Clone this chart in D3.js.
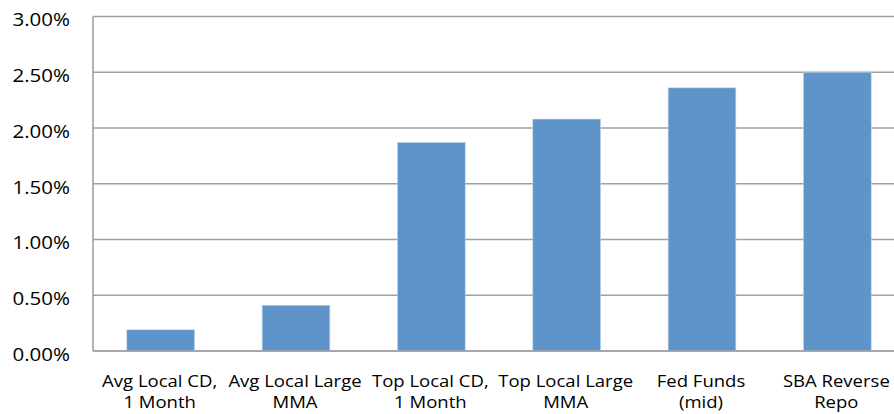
<!DOCTYPE html>
<html>
<head>
<meta charset="utf-8">
<script src="https://cdn.jsdelivr.net/npm/d3@7"></script>
<style>
  body { margin: 0; background: #fff; }
  text { font-family: "Open Sans", "Noto Sans", sans-serif; fill: #000; }
</style>
</head>
<body>
<svg id="chart" width="894" height="414"></svg>
<script>
var categories = ["Avg Local CD, 1 Month", "Avg Local Large MMA", "Top Local CD, 1 Month",
  "Top Local Large MMA", "Fed Funds (mid)", "SBA Reverse Repo"];
var labelLines = [["Avg Local CD,", "1 Month"], ["Avg Local Large", "MMA"], ["Top Local CD,", "1 Month"],
  ["Top Local Large", "MMA"], ["Fed Funds", "(mid)"], ["SBA Reverse", "Repo"]];
var values = [0.0019, 0.0041, 0.0187, 0.0208, 0.0236, 0.0250];
var yTicks = [0, 0.005, 0.01, 0.015, 0.02, 0.025, 0.03];

var svg = d3.select("#chart"),
  width = +svg.attr("width"),
  height = +svg.attr("height");

var plotLeft = 93, plotTop = 16.5, plotBottom = 351, plotRight = 905;

var x = d3.scaleBand()
  .domain(categories)
  .range([plotLeft, plotRight])
  .paddingInner(0.5)
  .paddingOuter(0.25);

var y = d3.scaleLinear()
  .domain([0, 0.03])
  .range([plotBottom, plotTop]);

// gridlines
svg.append("g")
  .selectAll("line")
  .data(yTicks)
  .enter().append("line")
  .attr("x1", plotLeft)
  .attr("x2", width)
  .attr("y1", function(d) { return y(d); })
  .attr("y2", function(d) { return y(d); })
  .attr("stroke", "#a0a0a0")
  .attr("stroke-width", 1.6);

// bars
svg.append("g")
  .selectAll("rect")
  .data(values)
  .enter().append("rect")
  .attr("x", function(d, i) { return x(categories[i]); })
  .attr("width", x.bandwidth())
  .attr("y", function(d) { return y(d); })
  .attr("height", function(d) { return y(0) - y(d); })
  .attr("fill", "#5e94c9")
  .attr("stroke", "#b9d0e8")
  .attr("stroke-width", 0.6);

// axis line on the left
svg.append("line")
  .attr("x1", plotLeft).attr("x2", plotLeft)
  .attr("y1", plotTop).attr("y2", plotBottom)
  .attr("stroke", "#a0a0a0")
  .attr("stroke-width", 1.6);

// baseline drawn over the bars
svg.append("line")
  .attr("x1", plotLeft).attr("x2", width)
  .attr("y1", plotBottom).attr("y2", plotBottom)
  .attr("stroke", "#a0a0a0")
  .attr("stroke-width", 1.6);

// y tick labels (the source font is a bit wider, so stretch a little)
var fmt = d3.format(".2%");
svg.append("g")
  .selectAll("text")
  .data(yTicks)
  .enter().append("text")
  .attr("transform", function(d) { return "translate(70," + (y(d) + 3.5) + ") scale(1.14,1)"; })
  .attr("dy", "0.35em")
  .attr("text-anchor", "end")
  .style("font-size", "18px")
  .text(function(d) { return fmt(d); });

// category labels
var lab = svg.append("g")
  .selectAll("text")
  .data(categories)
  .enter().append("text")
  .attr("text-anchor", "middle")
  .style("font-size", "17px")
  .attr("transform", function(d) { return "translate(" + (x(d) + x.bandwidth() / 2 - 1) + ",0) scale(1.09,1)"; });

lab.selectAll("tspan")
  .data(function(d, i) { return labelLines[i]; })
  .enter().append("tspan")
  .attr("x", 0)
  .attr("y", function(d, j) { return 387 + j * 21.5; })
  .text(function(d) { return d; });
</script>
</body>
</html>
